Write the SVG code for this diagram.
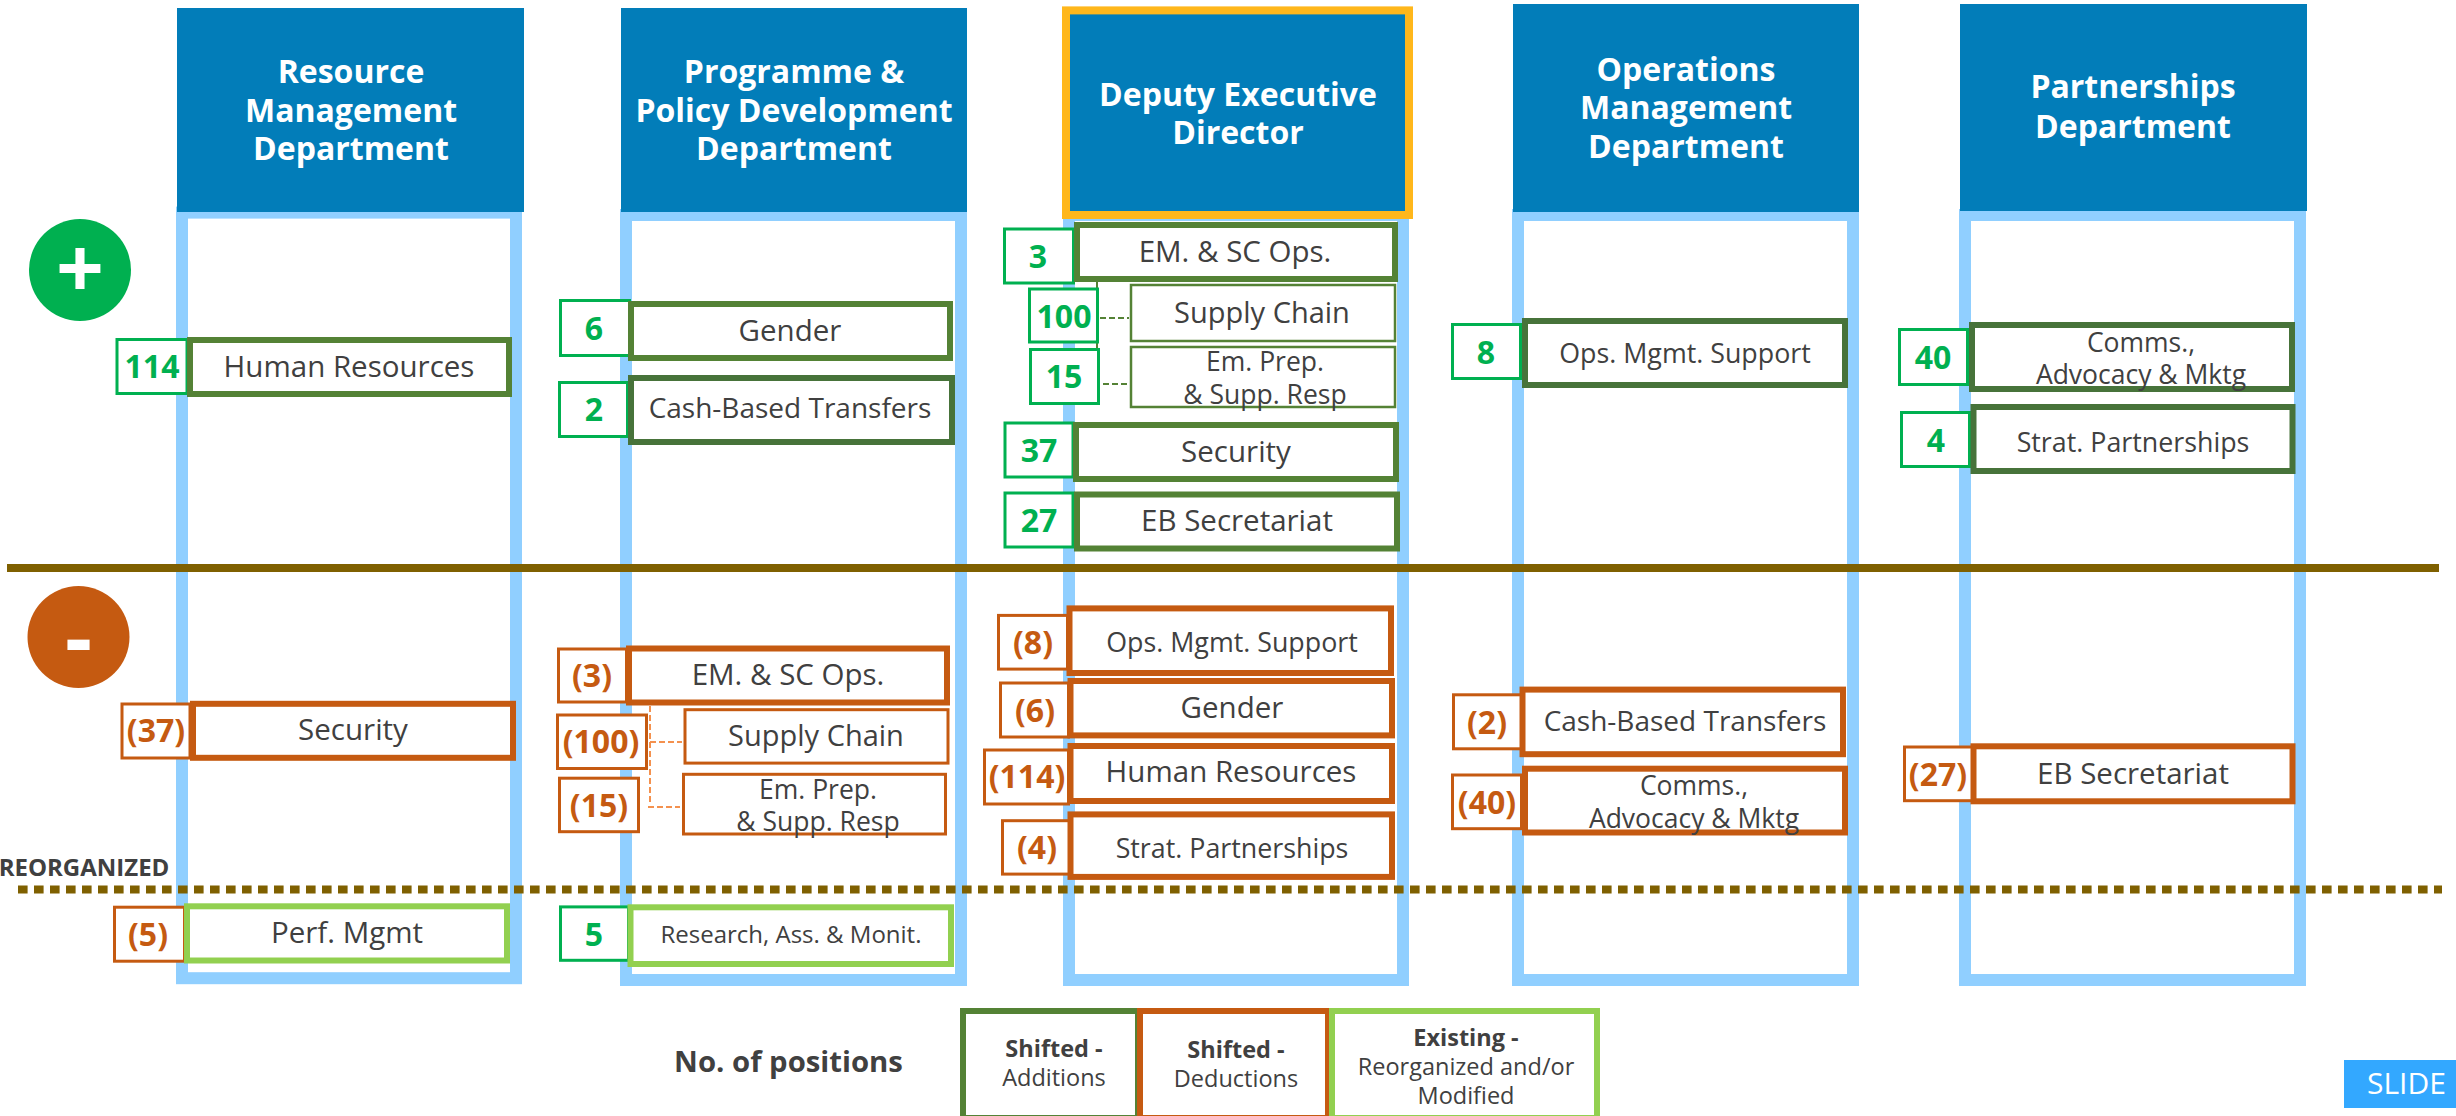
<svg xmlns="http://www.w3.org/2000/svg" width="2456" height="1116" viewBox="0 0 2456 1116">
<style>
text{font-family:"Open Sans","Noto Sans","Liberation Sans",sans-serif;text-anchor:middle}
.hd{fill:#027DB9}
.fr{fill:none;stroke:#90CFFF}
.h{font-weight:700;font-size:32px;fill:#fff}
.b{fill:#fff;stroke-width:6}
.t{fill:#fff;stroke-width:3}
.dg{stroke:#548235}.dk{stroke:#47733A}.or{stroke:#C55A11}.lg{stroke:#92D050}.gb{stroke:#00B050}
.l{font-size:29.500px;fill:#404040}
.m{font-size:26.800px;fill:#404040}
.c{font-size:28px;fill:#404040}
.s{font-size:26.500px;fill:#404040}
.ng{font-size:32px;font-weight:700;fill:#00B050}
.no{font-size:32px;font-weight:700;fill:#C55A11}
.k{font-size:23.500px;fill:#404040}
.kb{font-size:23.500px;font-weight:700;fill:#404040}
</style>
<rect width="2456" height="1116" fill="#fff"/>
<g id="frames">
<rect class="fr" x="182" y="212.600" width="334" height="765.600" stroke-width="12"/>
<rect class="fr" x="626" y="215" width="335" height="765" stroke-width="12"/>
<rect class="fr" x="1069" y="215" width="334" height="765" stroke-width="12"/>
<rect class="fr" x="1518" y="215" width="335" height="765" stroke-width="12"/>
<rect class="fr" x="1965" y="215" width="335" height="765" stroke-width="12"/>
</g>
<g id="lines" fill="none">
<line x1="7" x2="2439" y1="568" y2="568" stroke="#7F6000" stroke-width="8"/>
<line x1="18" x2="2442" y1="889.600" y2="889.600" stroke="#7F6000" stroke-width="8" stroke-dasharray="9.6 6.4"/>
</g>
<g id="connectors" fill="none" stroke-width="2" stroke-dasharray="6 3">
<path d="M1100 318H1129M1103 384H1127" stroke="#548235"/>
<path d="M1097 280V350" stroke="#548235" stroke-dasharray="none"/>
<path d="M650 706V805M650 742H682M648 807H680" stroke="#F4914E"/>
</g>
<g id="hd-resource"><rect class="hd" x="177" y="8" width="347" height="204"/><text class="h"><tspan x="351" y="83">Resource</tspan><tspan x="351" y="121.500">Management</tspan><tspan x="351" y="160">Department</tspan></text></g>
<g id="hd-programme"><rect class="hd" x="621" y="8" width="346" height="204"/><text class="h"><tspan x="794" y="83">Programme &amp;</tspan><tspan x="794" y="121.500">Policy Development</tspan><tspan x="794" y="160">Department</tspan></text></g>
<g id="hd-deputy"><rect class="hd" x="1066" y="10.400" width="343" height="204.600" stroke="#FFB71B" stroke-width="8"/><text class="h"><tspan x="1238" y="105.500">Deputy Executive</tspan><tspan x="1238" y="144">Director</tspan></text></g>
<g id="hd-operations"><rect class="hd" x="1513" y="4" width="346" height="208"/><text class="h"><tspan x="1686" y="80.500">Operations</tspan><tspan x="1686" y="119">Management</tspan><tspan x="1686" y="157.500">Department</tspan></text></g>
<g id="hd-partnerships"><rect class="hd" x="1960" y="4" width="347" height="207"/><text class="h"><tspan x="2133" y="98">Partnerships</tspan><tspan x="2133" y="137.500">Department</tspan></text></g>
<g id="plus"><ellipse cx="80" cy="270" rx="51" ry="51" fill="#00B050"/><text x="80" y="298" font-size="84" font-weight="700" fill="#fff">+</text></g>
<g id="minus"><ellipse cx="78.500" cy="637" rx="51" ry="51" fill="#C55A11"/><text x="78.500" y="668" font-size="84" font-weight="700" fill="#fff">-</text></g>
<g id="n-hr-add"><rect class="t gb" x="117" y="339.500" width="70" height="54"/><text class="ng" x="152" y="378">114</text><rect class="b dg" x="190" y="340" width="319" height="54"/><text class="l" x="349" y="377">Human Resources</text></g>
<g id="n-gender-add"><rect class="t gb" x="560.500" y="300.500" width="69" height="55"/><text class="ng" x="594" y="340">6</text><rect class="b dg" x="631" y="304" width="319" height="54"/><text class="l" x="790" y="341">Gender</text></g>
<g id="n-cbt-add"><rect class="t gb" x="559.500" y="382.500" width="68" height="54"/><text class="ng" x="594" y="421">2</text><rect class="b dk" x="631" y="378" width="321" height="64"/><text class="c" x="790" y="418">Cash-Based Transfers</text></g>
<g id="n-emsc-add"><rect class="t gb" x="1004.500" y="229" width="69" height="54"/><text class="ng" x="1038" y="268">3</text><rect class="b dg" x="1077" y="225" width="318" height="54"/><text class="l" x="1235" y="262">EM. &amp; SC Ops.</text></g>
<g id="n-sc-add"><rect class="t gb" x="1029.500" y="289" width="68" height="53"/><text class="ng" x="1064" y="328">100</text><rect x="1131" y="285" width="264" height="56" fill="#fff" stroke="#548235" stroke-width="2.500"/><text class="l" x="1262" y="323" style="font-size:29px">Supply Chain</text></g>
<g id="n-ep-add"><rect class="t gb" x="1030.500" y="349.500" width="68" height="54"/><text class="ng" x="1064" y="388">15</text><rect x="1131" y="347" width="264" height="60" fill="#fff" stroke="#548235" stroke-width="2.500"/><text class="s"><tspan x="1265" y="371">Em. Prep.</tspan><tspan x="1265" y="403.500">&amp; Supp. Resp</tspan></text></g>
<g id="n-sec-add"><rect class="t gb" x="1005" y="423" width="68" height="54"/><text class="ng" x="1039" y="462">37</text><rect class="b dg" x="1076" y="425" width="320" height="54"/><text class="l" x="1236" y="462">Security</text></g>
<g id="n-eb-add"><rect class="t gb" x="1005" y="493" width="68" height="54"/><text class="ng" x="1039" y="532">27</text><rect class="b dg" x="1077" y="494.500" width="320" height="54"/><text class="l" x="1237" y="531">EB Secretariat</text></g>
<g id="n-ops-add"><rect class="t gb" x="1452.500" y="324.500" width="68" height="54"/><text class="ng" x="1486" y="364">8</text><rect class="b dk" x="1525" y="321" width="320" height="64"/><text class="m" x="1685" y="363">Ops. Mgmt. Support</text></g>
<g id="n-comms-add"><rect class="t gb" x="1899.500" y="329.500" width="68" height="55"/><text class="ng" x="1933" y="369">40</text><rect class="b dk" x="1972" y="325" width="320" height="64"/><text class="s"><tspan x="2141" y="352">Comms.,</tspan><tspan x="2141" y="384">Advocacy &amp; Mktg</tspan></text></g>
<g id="n-strat-add"><rect class="t gb" x="1901.500" y="412.500" width="68" height="54"/><text class="ng" x="1936" y="452">4</text><rect class="b dk" x="1973.500" y="407" width="319" height="64"/><text class="m" x="2133" y="452">Strat. Partnerships</text></g>
<g id="n-sec-del"><rect class="t or" x="122" y="704" width="68" height="54"/><text class="no" x="156" y="742">(37)</text><rect class="b or" x="193" y="703.800" width="320" height="54"/><text class="l" x="353" y="739.500">Security</text></g>
<g id="n-emsc-del"><rect class="t or" x="558.500" y="649" width="68" height="53"/><text class="no" x="592" y="687">(3)</text><rect class="b or" x="629" y="648.500" width="318" height="54"/><text class="l" x="788" y="685">EM. &amp; SC Ops.</text></g>
<g id="n-sc-del"><rect class="t or" x="557.500" y="715" width="89" height="53.500"/><text class="no" x="601" y="753">(100)</text><rect x="685" y="709.700" width="263" height="53.400" fill="#fff" stroke="#C55A11" stroke-width="3"/><text class="l" x="816" y="746" style="font-size:29px">Supply Chain</text></g>
<g id="n-ep-del"><rect class="t or" x="559.500" y="778.200" width="79" height="53.500"/><text class="no" x="599" y="816.500">(15)</text><rect x="683.500" y="774.300" width="262" height="59.700" fill="#fff" stroke="#C55A11" stroke-width="3"/><text class="s"><tspan x="818" y="798.500">Em. Prep.</tspan><tspan x="818" y="831">&amp; Supp. Resp</tspan></text></g>
<g id="n-perf"><rect class="t or" x="114.500" y="907.200" width="70" height="54"/><text class="no" x="148" y="945.500">(5)</text><rect class="b lg" x="187" y="906.300" width="320" height="54.200"/><text class="l" x="347" y="943">Perf. Mgmt</text></g>
<g id="n-research"><rect class="t gb" x="560.500" y="906.900" width="68" height="53.400"/><text class="ng" x="594" y="945.500">5</text><rect class="b lg" x="630.500" y="907.300" width="320.500" height="56.700"/><text style="font-size:24px;fill:#404040" x="791" y="943">Research, Ass. &amp; Monit.</text></g>
<g id="n-ops-del"><rect class="t or" x="998.500" y="615.400" width="69" height="53.700"/><text class="no" x="1033" y="654">(8)</text><rect class="b or" x="1069.500" y="608.400" width="321.500" height="64.600"/><text class="m" x="1232" y="652">Ops. Mgmt. Support</text></g>
<g id="n-gender-del"><rect class="t or" x="1000.500" y="683" width="68" height="54"/><text class="no" x="1035" y="722">(6)</text><rect class="b or" x="1070.500" y="681" width="321.500" height="54.400"/><text class="l" x="1232" y="717.500">Gender</text></g>
<g id="n-hr-del"><rect class="t or" x="984.500" y="750" width="84" height="54"/><text class="no" x="1027" y="788">(114)</text><rect class="b or" x="1070.500" y="746" width="321.500" height="55"/><text class="l" x="1231" y="782">Human Resources</text></g>
<g id="n-strat-del"><rect class="t or" x="1002.500" y="820.700" width="68" height="53.400"/><text class="no" x="1037" y="859">(4)</text><rect class="b or" x="1070.500" y="814.400" width="321.500" height="62.500"/><text class="m" x="1232" y="858">Strat. Partnerships</text></g>
<g id="n-cbt-del"><rect class="t or" x="1453.500" y="694.800" width="68" height="54"/><text class="no" x="1487" y="733.500">(2)</text><rect class="b or" x="1522.500" y="689.600" width="320.500" height="64.600"/><text class="c" x="1685" y="731">Cash-Based Transfers</text></g>
<g id="n-comms-del"><rect class="t or" x="1452.500" y="775" width="69" height="53.700"/><text class="no" x="1487" y="813.500">(40)</text><rect class="b or" x="1525" y="768.700" width="320" height="63.800"/><text class="s"><tspan x="1694" y="795">Comms.,</tspan><tspan x="1694" y="827.500">Advocacy &amp; Mktg</tspan></text></g>
<g id="n-eb-del"><rect class="t or" x="1904.500" y="747" width="68" height="53.700"/><text class="no" x="1938" y="785.500">(27)</text><rect class="b or" x="1973.500" y="746.300" width="319" height="55"/><text class="l" x="2133" y="784">EB Secretariat</text></g>
<g id="reorg-label"><text x="84" y="875.500" font-size="24" font-weight="700" fill="#404040">REORGANIZED</text></g>
<g id="legend">
<text x="788.500" y="1072" font-size="29.300" font-weight="700" fill="#404040">No. of positions</text>
<rect class="b dg" x="963" y="1011" width="175" height="107"/>
<rect class="b or" x="1140" y="1011" width="188" height="107"/>
<rect class="b lg" x="1332" y="1011" width="265" height="107"/>
<text class="kb" x="1054" y="1057">Shifted -</text><text class="k" x="1054" y="1086">Additions</text>
<text class="kb" x="1236" y="1058">Shifted -</text><text class="k" x="1236" y="1087">Deductions</text>
<text class="kb" x="1466" y="1046">Existing -</text><text class="k"><tspan x="1466" y="1075">Reorganized and/or</tspan><tspan x="1466" y="1104">Modified</tspan></text>
</g>
<g id="slide"><rect x="2344" y="1060" width="112" height="48" fill="#33A8FF"/><text x="2367" y="1094" font-size="30" fill="#fff" style="text-anchor:start">SLIDE</text></g>
</svg>
